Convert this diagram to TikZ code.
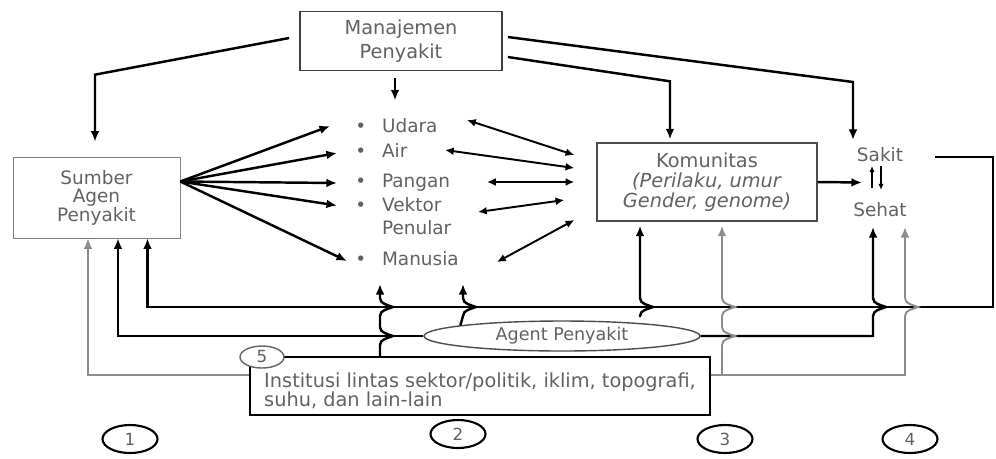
\documentclass[tikz,border=0pt]{standalone}
\usepackage{fontspec}
\setmainfont{DejaVu Sans}
\usetikzlibrary{shapes, positioning, calc, arrows.meta}
\definecolor{abu}{rgb}{.38,.38,.38}
\definecolor{abumuda}{rgb}{.55,.55,.55}

\begin{document}
\begin{tikzpicture}[x=0.02cm, y=-0.02cm,
		panah/.style={line width=1.4pt, -{Latex[length=6pt, width=5pt]}},
		panahabu/.style={line width=1.1pt, abumuda, -{Latex[length=6pt, width=5pt]}},
		dua/.style={line width=1.1pt, {Latex[length=5pt, width=4.5pt]}-{Latex[length=5pt, width=4.5pt]}},
		kotak/.style={draw, align=center, text=abu, font=\fontsize{11}{13.6}\selectfont},
		butir/.style={anchor=west, inner sep=0pt, align=left, text=abu, font=\fontsize{10.5}{13}\selectfont},
		bulat/.style={draw, ellipse, line width=1.2pt, minimum width=1.1cm, minimum height=0.56cm, inner sep=0pt, text=abu, font=\fontsize{9.5}{9.5}\selectfont},
		lompat/.style 2 args={insert path={-- (#1,#2+9) .. controls (#1,#2+3) and (#1+8,#2+2) .. (#1+13,#2) .. controls (#1+8,#2-2) and (#1,#2-3) .. (#1,#2-9)}}
	]
	\useasboundingbox (0,0) rectangle (996,458);

	\node[kotak, minimum width=4.04cm, minimum height=1.18cm, draw=black!75, line width=1pt] (manajemen) at (401,41) {Manajemen\\Penyakit};
	\node[kotak, minimum width=3.34cm, minimum height=1.62cm, draw=black!50, font=\fontsize{10.5}{10.5}\selectfont] (sumber) at (96.5,197.5) {Sumber\\Agen\\Penyakit};
	\node[kotak, minimum width=4.4cm, minimum height=1.56cm, draw=black!70, line width=0.8pt, font=\fontsize{11}{11.3}\selectfont] (komunitas) at (707,182) {Komunitas\\\textit{(Perilaku, umur}\\\textit{Gender, genome)}};

	\node[butir] (udara) at (355,126) {\textbullet\hspace{9pt}Udara};
	\node[butir] (air) at (355,150) {\textbullet\hspace{9pt}Air};
	\node[butir] (pangan) at (355,183) {\textbullet\hspace{9pt}Pangan};
	\node[butir] (vektor) at (355,216.5) {\textbullet\hspace{9pt}Vektor\\\phantom{\textbullet}\hspace{9pt}Penular};
	\node[butir] (manusia) at (355,259) {\textbullet\hspace{9pt}Manusia};

	\node[butir, anchor=center] (sakit) at (880,155) {Sakit};
	\node[butir, anchor=center] (sehat) at (880,210) {Sehat};

	\node[draw=black!70, line width=0.8pt, ellipse, minimum width=5.52cm, minimum height=0.6cm, inner sep=0pt, text=abu, font=\fontsize{10}{10}\selectfont] (agent) at (562,336) {Agent Penyakit};
	\node[draw, line width=1pt, minimum width=9.2cm, minimum height=1.16cm, align=left, text=abu, font=\fontsize{11}{11}\selectfont] (institusi) at (480,386) {\rule{0pt}{14pt}Institusi lintas sektor/politik, iklim, topografi,\\suhu, dan lain-lain};
	\node[bulat, draw=black!60, line width=0.8pt, fill=white, minimum width=0.88cm, minimum height=0.44cm] (c5) at (262,357) {5};

	\node[bulat] (c1) at (130,439) {1};
	\node[bulat] (c2) at (458,434) {2};
	\node[bulat] (c3) at (725,439) {3};
	\node[bulat] (c4) at (910,439) {4};

	\draw[panah] ($(manajemen.south)+(-6,7)$) -- ($(manajemen.south)+(-6,29)$);
	\draw[panah] ($(manajemen.west)+(-10,-3)$) -- ($(sumber.north)+(-1.5,-82)$) -- ($(sumber.north)+(-1.5,-15)$);
	\draw[panah] ($(manajemen.east)+(5,16)$) -- ($(komunitas.north)+(-37,-61)$) -- ($(komunitas.north)+(-37,-3)$);
	\draw[panah] ($(manajemen.east)+(5,-4)$) -- ($(sakit)+(-27,-73)$) -- ($(sakit)+(-27,-15)$);

	\coordinate (kipas) at ($(sumber.east)+(0,-16)$);
	\draw[panah] (kipas) -- ($(udara.west)+(-25,0)$);
	\draw[panah] (kipas) -- ($(air.west)+(-18,3)$);
	\draw[panah] (kipas) -- ($(pangan.west)+(-18,0)$);
	\draw[panah] (kipas) -- ($(vektor.west)+(-18,-11)$);
	\draw[panah] (kipas) -- ($(manusia.west)+(-8,2)$);

	\draw[dua] ($(udara.west)+(112,-6)$) -- ($(komunitas.west)+(-22,-27)$);
	\draw[dua] ($(air.west)+(90,0)$) -- ($(komunitas.west)+(-22,-14)$);
	\draw[dua] ($(pangan.west)+(132,-1)$) -- ($(komunitas.west)+(-22,0)$);
	\draw[dua] ($(vektor.west)+(123,-4.5)$) -- ($(komunitas.west)+(-32,18)$);
	\draw[dua] ($(manusia.west)+(142,3)$) -- ($(komunitas.west)+(-22,38)$);

	\draw[panah] (komunitas.east) -- ($(sakit)!0.5!(sehat)+(-18,0)$);
	\draw[line width=0.8pt, -{Latex[length=3.5pt, width=3pt]}] ($(sehat)+(-8,-22)$) -- ($(sakit)+(-8,11)$);
	\draw[line width=0.8pt, -{Latex[length=3.5pt, width=3pt]}] ($(sakit)+(1,11)$) -- ($(sehat)+(1,-20)$);

	\draw[panah] ($(sakit)+(55,2)$) -| (993,307) -| ($(sumber.south)+(51,0)$);
	\draw[panah] (agent.west) -| ($(sumber.south)+(21.5,0)$);
	\draw[panah] (agent.east) -- (873,336) [lompat={873}{307}] -- ($(sehat)+(-7,17)$);

	\draw[panah] ($(institusi.north)+(-100,0)$) [lompat={380}{336}] [lompat={380}{307}] -- ($(manusia.west)+(25,25)$);
	\draw[panah] (agent.174) [lompat={463}{307}] -- ($(manusia.west)+(108,25)$);

	\draw[panah] (640,317) [lompat={640}{307}] -- ($(komunitas.south)+(-67,4)$);
	\draw[panahabu] (722,375) [lompat={722}{336}] [lompat={722}{307}] -- ($(komunitas.south)+(15,4)$);

	\draw[panahabu] ($(institusi.west)+(0,-11)$) -| ($(sumber.south)+(-8.5,0)$);
	\draw[panahabu] ($(institusi.east)+(0,-11)$) -- (905,375) [lompat={905}{307}] -- ($(sehat)+(25,17)$);
\end{tikzpicture}
\end{document}
